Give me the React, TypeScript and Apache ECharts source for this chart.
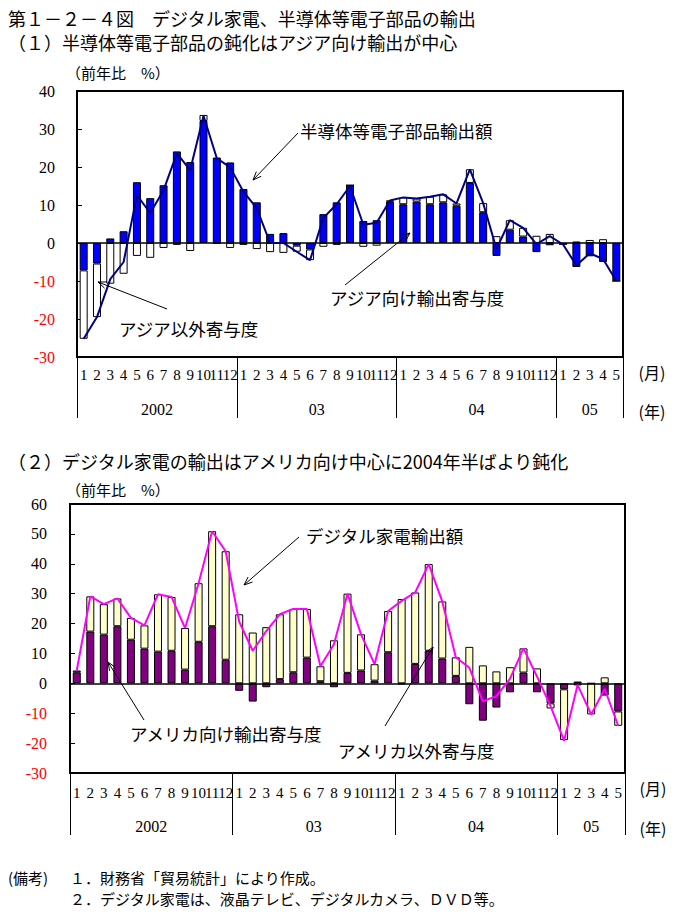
import React, { useEffect, useRef } from "react";
import * as echarts from "echarts";

// ---- categories ----
const monthLabels = [
  "1","2","3","4","5","6","7","8","9","10","11","12",
  "1","2","3","4","5","6","7","8","9","10","11","12",
  "1","2","3","4","5","6","7","8","9","10","11","12",
  "1","2","3","4","5",
];
const yearLabels = ["2002", "03", "04", "05"];
const yearStarts = [0, 12, 24, 36];
const yearEnds = [11, 23, 35, 40];

// ---- (1) semiconductors etc. (y/y %) ----
const semiAsia = [
  -7.2, -5.4, 1.2, 3.1, 16.0, 11.8, 15.2, 24.1, 21.3, 32.1, 22.5, 21.2,
  14.2, 10.7, 2.4, 2.6, -0.7, -1.7, 7.6, 10.7, 15.2, 5.8, 6.0, 10.9,
  10.2, 10.9, 10.2, 10.7, 9.8, 15.8, 8.1, -3.4, 3.5, 1.7, -2.4, -0.6,
  -0.3, -6.3, -3.5, -5.0, -10.0,
];
const semiNonAsia = [
  -18.0, -14.1, -10.7, -8.1, -3.4, -3.9, -1.3, -0.5, -2.1, 1.6, -0.2, -1.3,
  -0.5, -1.6, -2.4, -2.6, -1.6, -2.8, -1.0, -0.5, 0.0, -1.0, -0.7, 0.3,
  1.8, 0.8, 2.0, 2.1, 0.6, 3.6, 2.4, 1.8, 2.5, 2.3, 1.9, 2.4,
  0.0, 0.4, 0.8, 1.0, 0.0,
];
const semiTotal = [
  -25.2, -19.5, -9.5, -5.0, 12.6, 7.9, 13.9, 23.6, 19.2, 33.5, 22.3, 19.9,
  13.5, 9.1, 0.0, 0.0, -2.3, -4.5, 6.6, 10.2, 15.0, 4.8, 5.3, 11.2,
  12.0, 11.7, 12.2, 12.8, 10.4, 19.4, 10.5, -1.6, 6.0, 4.0, -0.3, 1.8,
  -0.4, -5.9, -2.7, -4.2, -10.0,
];

// ---- (2) digital appliances (y/y %) ----
const digiUS = [
  3.7, 17.3, 16.3, 19.1, 14.6, 11.6, 10.6, 10.9, 4.6, 13.9, 19.1, 7.9,
  -2.5, -6.1, -1.3, 1.4, 3.7, 8.6, 0.7, -1.3, 3.5, 4.3, 0.9, 10.4,
  -0.3, 6.5, 10.9, 8.3, 2.5, -7.0, -12.5, -8.1, -3.0, 3.6, -3.0, -6.7,
  -2.0, 0.6, 0.0, -4.1, -9.4,
];
const digiNonUS = [
  0.6, 11.8, 10.2, 9.3, 7.3, 7.8, 19.2, 18.0, 13.9, 19.6, 31.8, 36.3,
  23.1, 17.0, 18.8, 21.7, 21.2, 16.3, 5.0, 14.4, 26.5, 12.1, 5.5, 13.8,
  28.2, 23.9, 29.0, 19.1, 6.2, 12.2, 6.0, 4.0, 5.4, 8.1, 5.0, -1.7,
  -17.0, -0.7, -10.4, 2.0, -4.8,
];
const digiTotal = [
  4.3, 29.1, 26.5, 28.4, 21.9, 19.4, 29.8, 28.9, 18.5, 33.5, 50.9, 44.2,
  20.6, 10.9, 17.5, 23.1, 24.9, 24.9, 5.7, 13.1, 30.0, 16.4, 6.4, 24.2,
  27.6, 30.4, 39.9, 27.4, 8.7, 5.2, -6.0, -4.3, 1.5, 11.7, 2.3, -7.6,
  -19.2, -0.5, -10.4, -1.9, -14.2,
];

const JP = "'Noto Sans CJK JP', sans-serif";
const NUM = "'Liberation Serif', serif";

const grids = [
  { left: 77, top: 91, width: 546, height: 266 },
  { left: 70, top: 504, width: 555, height: 269 },
];

function txt(text: string, x: number, y: number, size: number, family = JP, align = "left", color = "#000") {
  return {
    type: "text",
    x,
    y,
    silent: true,
    z: 50,
    style: {
      text,
      fill: color,
      font: `${size}px ${family}`,
      textAlign: align,
      textVerticalAlign: "middle",
    },
  };
}

function arrow(x1: number, y1: number, x2: number, y2: number) {
  const ang = Math.atan2(y2 - y1, x2 - x1);
  const L = 9;
  const A = 0.38;
  const p1 = [x2 - L * Math.cos(ang - A), y2 - L * Math.sin(ang - A)];
  const p2 = [x2 - L * Math.cos(ang + A), y2 - L * Math.sin(ang + A)];
  return [
    { type: "line", silent: true, z: 50, shape: { x1, y1, x2, y2 }, style: { stroke: "#000", lineWidth: 1 } },
    { type: "polyline", silent: true, z: 50, shape: { points: [p1, [x2, y2], p2] }, style: { stroke: "#000", fill: null, lineWidth: 1 } },
  ];
}

function buildOption() {
  const xAxis = [0, 1].map((g) => ({
    type: "category",
    gridIndex: g,
    data: monthLabels,
    boundaryGap: true,
    axisLine: { show: true, onZero: false, lineStyle: { color: "#000", width: 2 } },
    axisTick: {
      show: true,
      interval: (i: number) => i % 12 === 0,
      length: g === 0 ? 61 : 62,
      lineStyle: { color: "#000", width: 1 },
    },
    axisLabel: {
      interval: 0,
      fontSize: 15,
      fontFamily: NUM,
      color: "#000",
      margin: g === 0 ? 10 : 12,
    },
    splitLine: { show: false },
  }));
  const yAxis = [
    { min: -30, max: 40, margin: 22 },
    { min: -30, max: 60, margin: 23 },
  ].map((a, g) => ({
    type: "value",
    gridIndex: g,
    min: a.min,
    max: a.max,
    interval: 10,
    axisLine: { show: true, lineStyle: { color: "#000", width: 2 } },
    axisTick: { show: true, inside: true, length: 5, lineStyle: { color: "#000", width: 1 } },
    splitLine: { show: false },
    axisLabel: {
      fontSize: 16,
      fontFamily: NUM,
      margin: a.margin,
      color: (v: any) => (Number(v) < 0 ? "#ff0000" : "#000000"),
    },
  }));

  const zeroLine = {
    silent: true,
    symbol: "none",
    label: { show: false },
    lineStyle: { color: "#000", width: 1.5, type: "solid" },
    data: [{ yAxis: 0 }],
  };

  const bar = (name: string, data: number[], g: number, color: string, stack: string, withZero: boolean) => ({
    type: "bar",
    name,
    data,
    xAxisIndex: g,
    yAxisIndex: g,
    stack,
    barWidth: 8,
    itemStyle: { color, borderColor: "#000", borderWidth: 1 },
    markLine: withZero ? zeroLine : undefined,
    z: 2,
  });

  const line = (name: string, data: number[], g: number, color: string) => ({
    type: "line",
    name,
    data,
    xAxisIndex: g,
    yAxisIndex: g,
    symbol: "none",
    lineStyle: { color, width: 2 },
    itemStyle: { color },
    z: 5,
  });

  return {
    animation: false,
    backgroundColor: "#ffffff",
    grid: grids.map((g) => ({ ...g, show: true, borderColor: "#000", borderWidth: 2, backgroundColor: "transparent", containLabel: false })),
    xAxis,
    yAxis,
    series: [
      bar("アジア向け輸出寄与度", semiAsia, 0, "#0000ff", "s1", true),
      bar("アジア以外寄与度", semiNonAsia, 0, "#ffffff", "s1", false),
      line("半導体等電子部品輸出額", semiTotal, 0, "#000080"),
      bar("アメリカ向け輸出寄与度", digiUS, 1, "#800080", "s2", true),
      bar("アメリカ以外寄与度", digiNonUS, 1, "#ffffcc", "s2", false),
      line("デジタル家電輸出額", digiTotal, 1, "#ff00ff"),
    ],
  };
}

export default function App() {
  const ref = useRef<HTMLDivElement>(null);
  useEffect(() => {
    document.body.style.margin = "0";
    const chart = echarts.init(ref.current as HTMLDivElement, null, { renderer: "svg" });
    chart.setOption(buildOption() as any);

    const els: any[] = [
      txt("第１－２－４図　デジタル家電、半導体等電子部品の輸出", 8, 18, 18),
      txt("（１）半導体等電子部品の鈍化はアジア向け輸出が中心", 8, 42, 18),
      txt("（前年比　%）", 66, 72, 15),
      txt("（２）デジタル家電の輸出はアメリカ向け中心に2004年半ばより鈍化", 8, 461, 18),
      txt("（前年比　%）", 66, 489, 15),
      txt("半導体等電子部品輸出額", 300, 130, 17.5),
      txt("アジア向け輸出寄与度", 330, 297, 17.5),
      txt("アジア以外寄与度", 119, 328, 17.5),
      txt("デジタル家電輸出額", 306, 535, 17.5),
      txt("アメリカ向け輸出寄与度", 130, 733, 17.5),
      txt("アメリカ以外寄与度", 338, 750, 17.5),
      ...arrow(298, 133, 253, 180),
      ...arrow(345, 285, 410, 233),
      ...arrow(167, 309, 98, 282),
      ...arrow(299, 537, 244, 585),
      ...arrow(144, 720, 108, 662),
      ...arrow(385, 726, 433, 647),
      txt("(月)", 652, 372, 16, JP, "center"),
      txt("(年)", 652, 411, 16, JP, "center"),
      txt("(月)", 653, 788, 16, JP, "center"),
      txt("(年)", 653, 828, 16, JP, "center"),
      txt("(備考)", 8, 877, 15),
      txt("１．財務省「貿易統計」により作成。", 70, 877, 15),
      txt("２．デジタル家電は、液晶テレビ、デジタルカメラ、ＤＶＤ等。", 70, 898, 15),
    ];

    const yearY = [409, 826];
    [0, 1].forEach((g) => {
      const band = grids[g].width / monthLabels.length;
      yearLabels.forEach((lab, k) => {
        let a = chart.convertToPixel({ xAxisIndex: g } as any, yearStarts[k]) as any;
        let b = chart.convertToPixel({ xAxisIndex: g } as any, yearEnds[k]) as any;
        if (typeof a !== "number" || isNaN(a)) a = grids[g].left + band * (yearStarts[k] + 0.5);
        if (typeof b !== "number" || isNaN(b)) b = grids[g].left + band * (yearEnds[k] + 0.5);
        els.push(txt(lab, (a + b) / 2, yearY[g], 16, NUM, "center"));
      });
    });

    chart.setOption({ graphic: { elements: els } } as any);
    return () => chart.dispose();
  }, []);
  return (
    <div
      ref={ref}
      style={{ position: "absolute", left: 0, top: 0, width: 698, height: 916, background: "#fff" }}
    />
  );
}
